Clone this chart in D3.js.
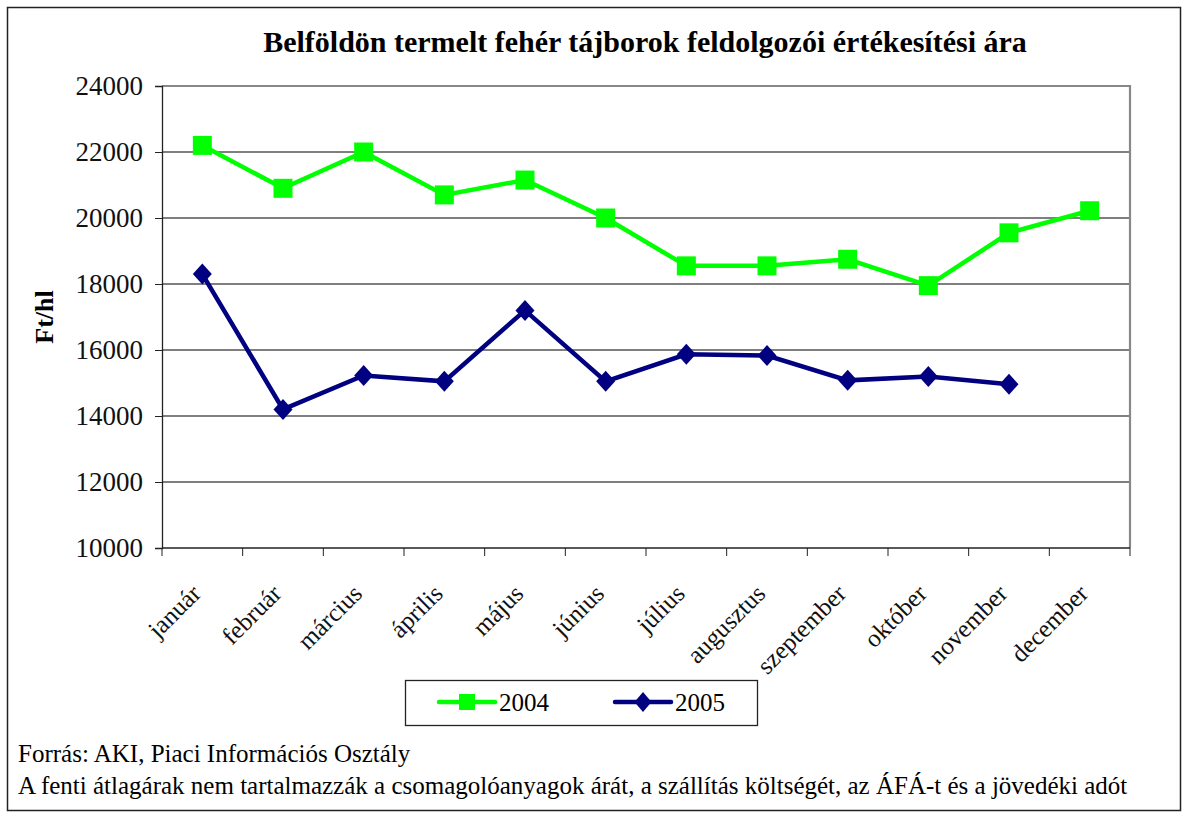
<!DOCTYPE html>
<meta charset="utf-8">
<style>
    body { margin: 0; background: white; }
    text { font-family: "Liberation Serif", "Times New Roman", serif; }
</style>
<script src="https://d3js.org/d3.v7.min.js"></script>
<body>
<script>

    var months = ["január", "február", "március", "április", "május", "június",
        "július", "augusztus", "szeptember", "október", "november", "december"]
    var values2004 = [22200, 20900, 22000, 20700, 21150, 20000, 18550, 18550, 18750, 17950, 19550, 20220]
    var values2005 = [18300, 14200, 15230, 15050, 17200, 15050, 15870, 15830, 15080, 15200, 14960, null]
    var yTicks = [10000, 12000, 14000, 16000, 18000, 20000, 22000, 24000]

    var width = 1187, height = 817
    var plotLeft = 162, plotRight = 1130, plotTop = 86, plotBottom = 548

    var svg = d3.select("body").append("svg")
        .attr("width", width)
        .attr("height", height)

    // outer frame
    svg.append("rect")
        .attr("x", 7.5).attr("y", 7.5)
        .attr("width", 1173).attr("height", 803)
        .attr("fill", "white")
        .attr("stroke", "#222")
        .attr("stroke-width", 1.5)

    svg.append("text")
        .text("Belföldön termelt fehér tájborok feldolgozói értékesítési ára")
        .attr("x", 645).attr("y", 52)
        .attr("text-anchor", "middle")
        .attr("font-size", "30px")
        .attr("font-weight", "bold")

    var x = d3.scaleBand().domain(months).range([plotLeft, plotRight])
    var y = d3.scaleLinear().domain([10000, 24000]).range([plotBottom, plotTop])

    // gridlines
    svg.append("g")
        .selectAll("line")
        .data(yTicks.slice(1, -1))
        .enter().append("line")
        .attr("x1", plotLeft).attr("x2", plotRight)
        .attr("y1", function (d) { return y(d) }).attr("y2", function (d) { return y(d) })
        .attr("stroke", "#555")
        .attr("stroke-width", 1.3)

    // plot area border (top and right)
    svg.append("path")
        .attr("d", "M" + plotLeft + "," + plotTop + "H" + plotRight + "V" + plotBottom)
        .attr("fill", "none")
        .attr("stroke", "#888")
        .attr("stroke-width", 2.2)

    // y axis
    var yAxis = svg.append("g")
        .attr("transform", "translate(" + plotLeft + ",0)")
        .call(d3.axisLeft(y).tickValues(yTicks).tickSize(7).tickPadding(12).tickFormat(d3.format("d")))
    yAxis.selectAll("text").attr("font-size", "27px").attr("fill", "#111")
        .style("font-family", "Liberation Serif")
    yAxis.selectAll("line").attr("stroke", "#222")
    yAxis.select(".domain").attr("stroke", "#222").attr("stroke-width", 1.3)

    // x axis
    var xAxis = svg.append("g")
        .attr("transform", "translate(0," + plotBottom + ")")
    xAxis.append("line")
        .attr("x1", plotLeft).attr("x2", plotRight)
        .attr("stroke", "#222").attr("stroke-width", 1.5)
    xAxis.selectAll(".tk")
        .data(months.concat(["end"]))
        .enter().append("line")
        .attr("x1", function (d, i) { return plotLeft + i * x.bandwidth() })
        .attr("x2", function (d, i) { return plotLeft + i * x.bandwidth() })
        .attr("y1", 0).attr("y2", 8)
        .attr("stroke", "#222")
    xAxis.selectAll(".lbl")
        .data(months)
        .enter().append("text")
        .text(function (d) { return d })
        .attr("transform", function (d) {
            return "translate(" + (x(d) + x.bandwidth() / 2) + ",47) rotate(-45)"
        })
        .attr("text-anchor", "end")
        .attr("font-size", "25px")
        .attr("fill", "#111")

    svg.append("text")
        .text("Ft/hl")
        .attr("transform", "translate(53,317) rotate(-90)")
        .attr("text-anchor", "middle")
        .attr("font-size", "26px")
        .attr("font-weight", "bold")

    var cx = function (d, i) { return x(months[i]) + x.bandwidth() / 2 }
    var line = d3.line()
        .defined(function (d) { return d != null })
        .x(cx)
        .y(function (d) { return y(d) })

    svg.append("path")
        .datum(values2004)
        .attr("d", line)
        .attr("fill", "none")
        .attr("stroke", "#00ff00")
        .attr("stroke-width", 4.5)

    svg.append("path")
        .datum(values2005)
        .attr("d", line)
        .attr("fill", "none")
        .attr("stroke", "#000080")
        .attr("stroke-width", 4.5)

    var square = d3.symbol().type(d3.symbolSquare).size(361)
    var diamond = "M0,-10.5L9.5,0L0,10.5L-9.5,0Z"

    svg.append("g").selectAll("path")
        .data(values2004)
        .enter().append("path")
        .attr("d", square)
        .attr("transform", function (d, i) { return "translate(" + cx(d, i) + "," + y(d) + ")" })
        .attr("fill", "#00ff00")

    svg.append("g").selectAll("path")
        .data(values2005.filter(function (d) { return d != null }))
        .enter().append("path")
        .attr("d", diamond)
        .attr("transform", function (d, i) { return "translate(" + cx(d, i) + "," + y(d) + ")" })
        .attr("fill", "#000080")

    // legend
    var legend = svg.append("g")
    legend.append("rect")
        .attr("x", 405.5).attr("y", 680.5)
        .attr("width", 352).attr("height", 45)
        .attr("fill", "white")
        .attr("stroke", "#222")
        .attr("stroke-width", 1.3)
    legend.append("line")
        .attr("x1", 439).attr("x2", 495).attr("y1", 702).attr("y2", 702)
        .attr("stroke", "#00ff00").attr("stroke-width", 4.5).attr("stroke-linecap", "round")
    legend.append("path")
        .attr("d", d3.symbol().type(d3.symbolSquare).size(256))
        .attr("transform", "translate(467,702)")
        .attr("fill", "#00ff00")
    legend.append("text").text("2004")
        .attr("x", 499).attr("y", 711).attr("font-size", "25px")
    legend.append("line")
        .attr("x1", 615).attr("x2", 671).attr("y1", 702).attr("y2", 702)
        .attr("stroke", "#000080").attr("stroke-width", 4.5).attr("stroke-linecap", "round")
    legend.append("path")
        .attr("d", "M0,-10L8.5,0L0,10L-8.5,0Z")
        .attr("transform", "translate(643,702)")
        .attr("fill", "#000080")
    legend.append("text").text("2005")
        .attr("x", 675).attr("y", 711).attr("font-size", "25px")

    svg.append("text")
        .text("Forrás: AKI, Piaci Információs Osztály")
        .attr("x", 18).attr("y", 762)
        .attr("font-size", "25px")

    svg.append("text")
        .text("A fenti átlagárak nem tartalmazzák a csomagolóanyagok árát, a szállítás költségét, az ÁFÁ-t és a jövedéki adót")
        .attr("x", 18).attr("y", 794)
        .attr("font-size", "25px")

</script>
